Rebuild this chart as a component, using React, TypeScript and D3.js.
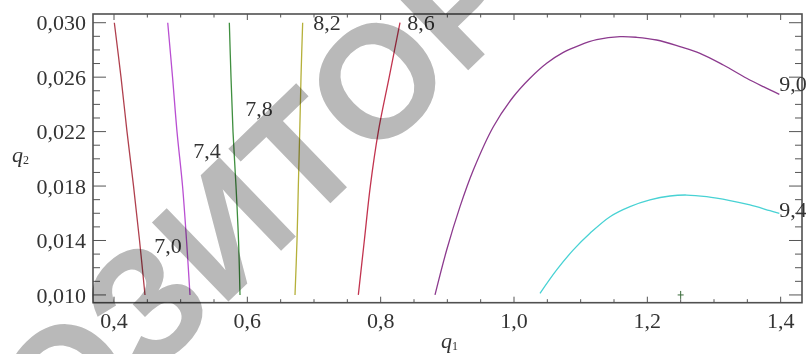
import React from "react"
import { scaleLinear, line, curveCatmullRom, range } from "d3"

// contour values (q1, q2)
const line70: [number, number][] = [
  [0.4005, 0.03], [0.4105, 0.026], [0.4195, 0.022], [0.4293, 0.018], [0.4383, 0.014], [0.4465, 0.01],
]
const line74: [number, number][] = [
  [0.4806, 0.03], [0.4878, 0.026], [0.4945, 0.022], [0.5028, 0.018], [0.5088, 0.014], [0.514, 0.01],
]
const line78: [number, number][] = [
  [0.573, 0.03], [0.5755, 0.026], [0.5785, 0.022], [0.583, 0.018], [0.5868, 0.014], [0.589, 0.01],
]
const line82: [number, number][] = [
  [0.683, 0.03], [0.6805, 0.026], [0.6786, 0.022], [0.6765, 0.018], [0.6745, 0.014], [0.6715, 0.01],
]
const line86: [number, number][] = [
  [0.829, 0.03], [0.8128, 0.026], [0.7965, 0.022], [0.7845, 0.018], [0.7755, 0.014], [0.7665, 0.01],
]
const line90: [number, number][] = [
  [0.8815, 0.01], [0.899, 0.0133], [0.919, 0.01649], [0.939, 0.01918], [0.969, 0.02236],
  [0.999, 0.02456], [1.024, 0.02592], [1.049, 0.02702], [1.074, 0.02782], [1.099, 0.02836],
  [1.124, 0.02875], [1.159, 0.02898], [1.184, 0.02893], [1.214, 0.02873], [1.249, 0.02824],
  [1.279, 0.02775], [1.314, 0.02689], [1.349, 0.02592], [1.374, 0.0253], [1.398, 0.02474],
]
const line94: [number, number][] = [
  [1.039, 0.01012], [1.064, 0.01184], [1.089, 0.01331], [1.114, 0.01453], [1.144, 0.01575],
  [1.174, 0.01649], [1.204, 0.01698], [1.234, 0.01727], [1.259, 0.01734], [1.289, 0.01722],
  [1.324, 0.01693], [1.354, 0.01661], [1.384, 0.01619], [1.398, 0.016],
]

const contours = [line70, line74, line78, line82, line86, line90, line94]
const levelLabels = ["7,0", "7,4", "7,8", "8,2", "8,6", "9,0", "9,4"]
const labelQ1 = [0.481, 0.5395, 0.6175, 0.7195, 0.8605, 1.4185, 1.4185]
const labelQ2 = [0.01367, 0.02065, 0.02373, 0.03005, 0.03005, 0.02557, 0.01632]

const markerPoint: [number, number] = [1.25, 0.01]

const xTicks = [0.4, 0.6, 0.8, 1.0, 1.2, 1.4]
const yTicks = [0.01, 0.014, 0.018, 0.022, 0.026, 0.03]

const watermarkText = "РЕПОЗИТОРИЙ БНТУ"

// styles
const colors = ["#b0404e", "#b94fd2", "#3f8f3f", "#b5b03a", "#c2344f", "#8c3a8e", "#48d2d4"]
const serif = '"Liberation Serif", "Times New Roman", Times, "DejaVu Serif", serif'
const sans = '"Liberation Sans", Arial, Helvetica, sans-serif'

const width = 806
const height = 354
const margin = { top: 14, right: 4, bottom: 51.3, left: 93 }

const fmt = (v: number, d: number) => v.toFixed(d).replace(".", ",")

const App = () => {
  const x = scaleLinear()
    .domain([0.3685, 1.432])
    .range([margin.left, width - margin.right])
  const y = scaleLinear()
    .domain([0.00943, 0.03064])
    .range([height - margin.bottom, margin.top])

  const path = line<[number, number]>()
    .x((d) => x(d[0]))
    .y((d) => y(d[1]))
    .curve(curveCatmullRom)

  const [x0, x1] = x.range()
  const [y0, y1] = y.range()

  const xMinor = range(0.4, 1.43, 0.05)
  const yMinor = range(0.01, 0.0305, 0.001)

  const textStyle = { fontFamily: serif, fontSize: 22 }

  return (
    <svg
      width={width}
      height={height}
      style={{ position: "absolute", left: 0, top: 0, background: "#fff" }}
    >
      {/* contours */}
      {contours.map((c, i) => (
        <path key={i} d={path(c) ?? ""} fill="none" stroke={colors[i]} strokeWidth={1.3} />
      ))}

      {/* marker */}
      <g stroke="#3b6b3b" strokeWidth={1}>
        <line x1={x(markerPoint[0]) - 3} x2={x(markerPoint[0]) + 3} y1={y(markerPoint[1])} y2={y(markerPoint[1])} />
        <line x1={x(markerPoint[0])} x2={x(markerPoint[0])} y1={y(markerPoint[1]) - 4} y2={y(markerPoint[1]) + 4} />
      </g>

      {/* ticks, pointing inward on all four sides */}
      <g stroke="#555" strokeWidth={1}>
        {xMinor.map((v, i) => {
          const major = xTicks.some((t) => Math.abs(t - v) < 1e-6)
          const len = major ? 6 : 3.5
          return (
            <g key={i}>
              <line x1={x(v)} x2={x(v)} y1={y0} y2={y0 - len} />
              <line x1={x(v)} x2={x(v)} y1={y1} y2={y1 + len} />
            </g>
          )
        })}
        {yMinor.map((v, i) => {
          const major = yTicks.some((t) => Math.abs(t - v) < 1e-6)
          const len = major ? 13 : 7
          return (
            <g key={i}>
              <line x1={x0} x2={x0 + len} y1={y(v)} y2={y(v)} />
              <line x1={x1} x2={x1 - len} y1={y(v)} y2={y(v)} />
            </g>
          )
        })}
      </g>

      {/* frame */}
      <rect x={x0} y={y1} width={x1 - x0} height={y0 - y1} fill="none" stroke="#505050" strokeWidth={1.6} />

      {/* tick labels */}
      <g style={textStyle} fill="#333">
        {xTicks.map((t) => (
          <text key={t} x={x(t)} y={328} textAnchor="middle">
            {fmt(t, 1)}
          </text>
        ))}
        {yTicks.map((t) => (
          <text key={t} x={86} y={y(t)} dy="0.35em" textAnchor="end">
            {fmt(t, 3)}
          </text>
        ))}
      </g>

      {/* axis titles */}
      <text x={441} y={348} style={{ ...textStyle, fontStyle: "italic" }} fill="#333">
        q<tspan style={{ fontSize: 12, fontStyle: "normal" }} dy={2}>1</tspan>
      </text>
      <text x={12} y={162} style={{ ...textStyle, fontStyle: "italic" }} fill="#333">
        q<tspan style={{ fontSize: 12, fontStyle: "normal" }} dy={2}>2</tspan>
      </text>

      {/* contour labels */}
      <g style={textStyle} fill="#333" textAnchor="middle">
        {levelLabels.map((l, i) => (
          <text key={l} x={x(labelQ1[i])} y={y(labelQ2[i])} dy="0.35em">
            {l}
          </text>
        ))}
      </g>

      {/* watermark */}
      <g transform="translate(143,305) rotate(-44)" style={{ mixBlendMode: "multiply" }}>
        <text
          x={-500}
          y={57}
          style={{ fontFamily: sans, fontWeight: "bold", fontSize: 160 }}
          fill="#b9b9b9"
        >
          {watermarkText}
        </text>
      </g>
    </svg>
  )
}

export default App
